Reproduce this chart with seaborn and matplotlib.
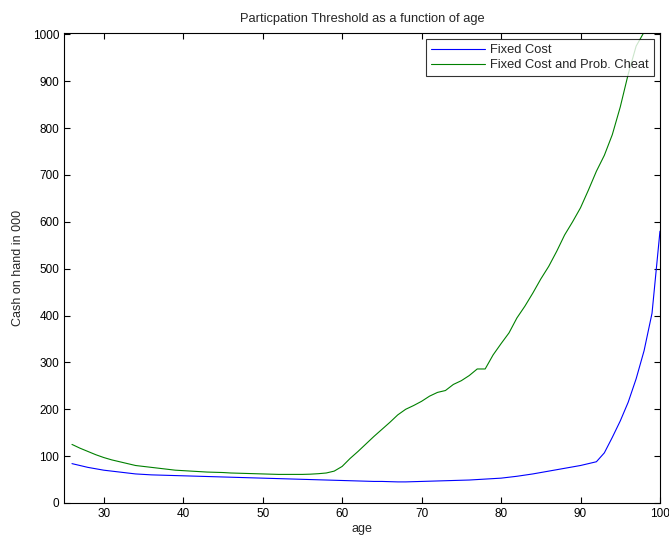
import numpy as np
import pandas as pd
import matplotlib
matplotlib.use("Agg")
import matplotlib.pyplot as plt
import seaborn as sns

# Ages and the two threshold series
ages = list(range(26, 101))

fixed_cost = [84, 80, 76, 73, 70, 68, 66, 64, 62, 61,            # 26-35
              60, 59.5, 59, 58.5, 58, 57.5, 57, 56.5, 56, 55.5,  # 36-45
              55, 54.5, 54, 53.5, 53, 52.5, 52, 51.5, 51, 50.5,  # 46-55
              50, 49.5, 49, 48.5, 48, 47.5, 47, 46.5, 46, 46,    # 56-65
              45.5, 45, 45, 45.5, 46, 46.5, 47, 47.5, 48, 48.5,  # 66-75
              49, 50, 51, 52, 53, 55, 57, 59.5, 62, 65,          # 76-85
              68, 71, 74, 77, 80, 84, 88, 107, 140, 175,         # 86-95
              215, 265, 325, 405, 580]                           # 96-100

fixed_cost_cheat = [125, 117, 110, 103, 97, 92, 88, 84, 80, 78,
                    76, 74, 72, 70, 69, 68, 67, 66, 65.5, 65,
                    64, 63.5, 63, 62.5, 62, 61.5, 61, 61, 61, 61,
                    61.5, 62.5, 64, 68, 78, 95, 110, 126, 142, 157,
                    172, 188, 200, 208, 217, 228, 236, 240, 253, 261,
                    272, 286, 286, 316, 340, 363, 395, 420, 448, 478,
                    505, 537, 572, 600, 630, 668, 708, 742, 786, 845,
                    915, 975, 1005, 1010, 1010]

series_names = ["Fixed Cost", "Fixed Cost and Prob. Cheat"]

df = pd.DataFrame({
    "age": ages * 2,
    "cash": fixed_cost + fixed_cost_cheat,
    "series": [series_names[0]] * len(ages) + [series_names[1]] * len(ages),
})

sns.set_style("ticks")
plt.rcParams["font.family"] = ["Liberation Sans", "DejaVu Sans"]
plt.rcParams["font.size"] = 8

fig = plt.figure(figsize=(6.69, 5.36), dpi=100)
ax = fig.add_axes([0.0957, 0.0616, 0.8908, 0.8768])

sns.lineplot(data=df, x="age", y="cash", hue="series",
             palette={series_names[0]: "#0000ff", series_names[1]: "#008000"},
             linewidth=0.8, ax=ax)

ax.set_xlim(25, 100)
ax.set_ylim(0, 1003)
ax.set_xticks(range(30, 101, 10))
ax.set_yticks(range(0, 1001, 100))
ax.tick_params(direction="in", top=True, right=True, length=4, width=0.8,
               labelsize=8.5, colors="black")
for s in ax.spines.values():
    s.set_linewidth(0.8)
    s.set_color("black")
    s.set_visible(True)

ax.set_title("Particpation Threshold as a function of age", fontsize=9.3, pad=8)
ax.set_xlabel("age", fontsize=9, labelpad=2)
ax.set_ylabel("Cash on hand in 000", fontsize=9, labelpad=6)

leg = ax.legend(loc="upper right", fontsize=9.3, frameon=True, fancybox=False,
                handlelength=4.2, handletextpad=0.4, borderaxespad=0.5,
                borderpad=0.35, labelspacing=0.25)
leg.get_frame().set_edgecolor("black")
leg.get_frame().set_linewidth(0.8)

fig.savefig("out.png", dpi=100)
